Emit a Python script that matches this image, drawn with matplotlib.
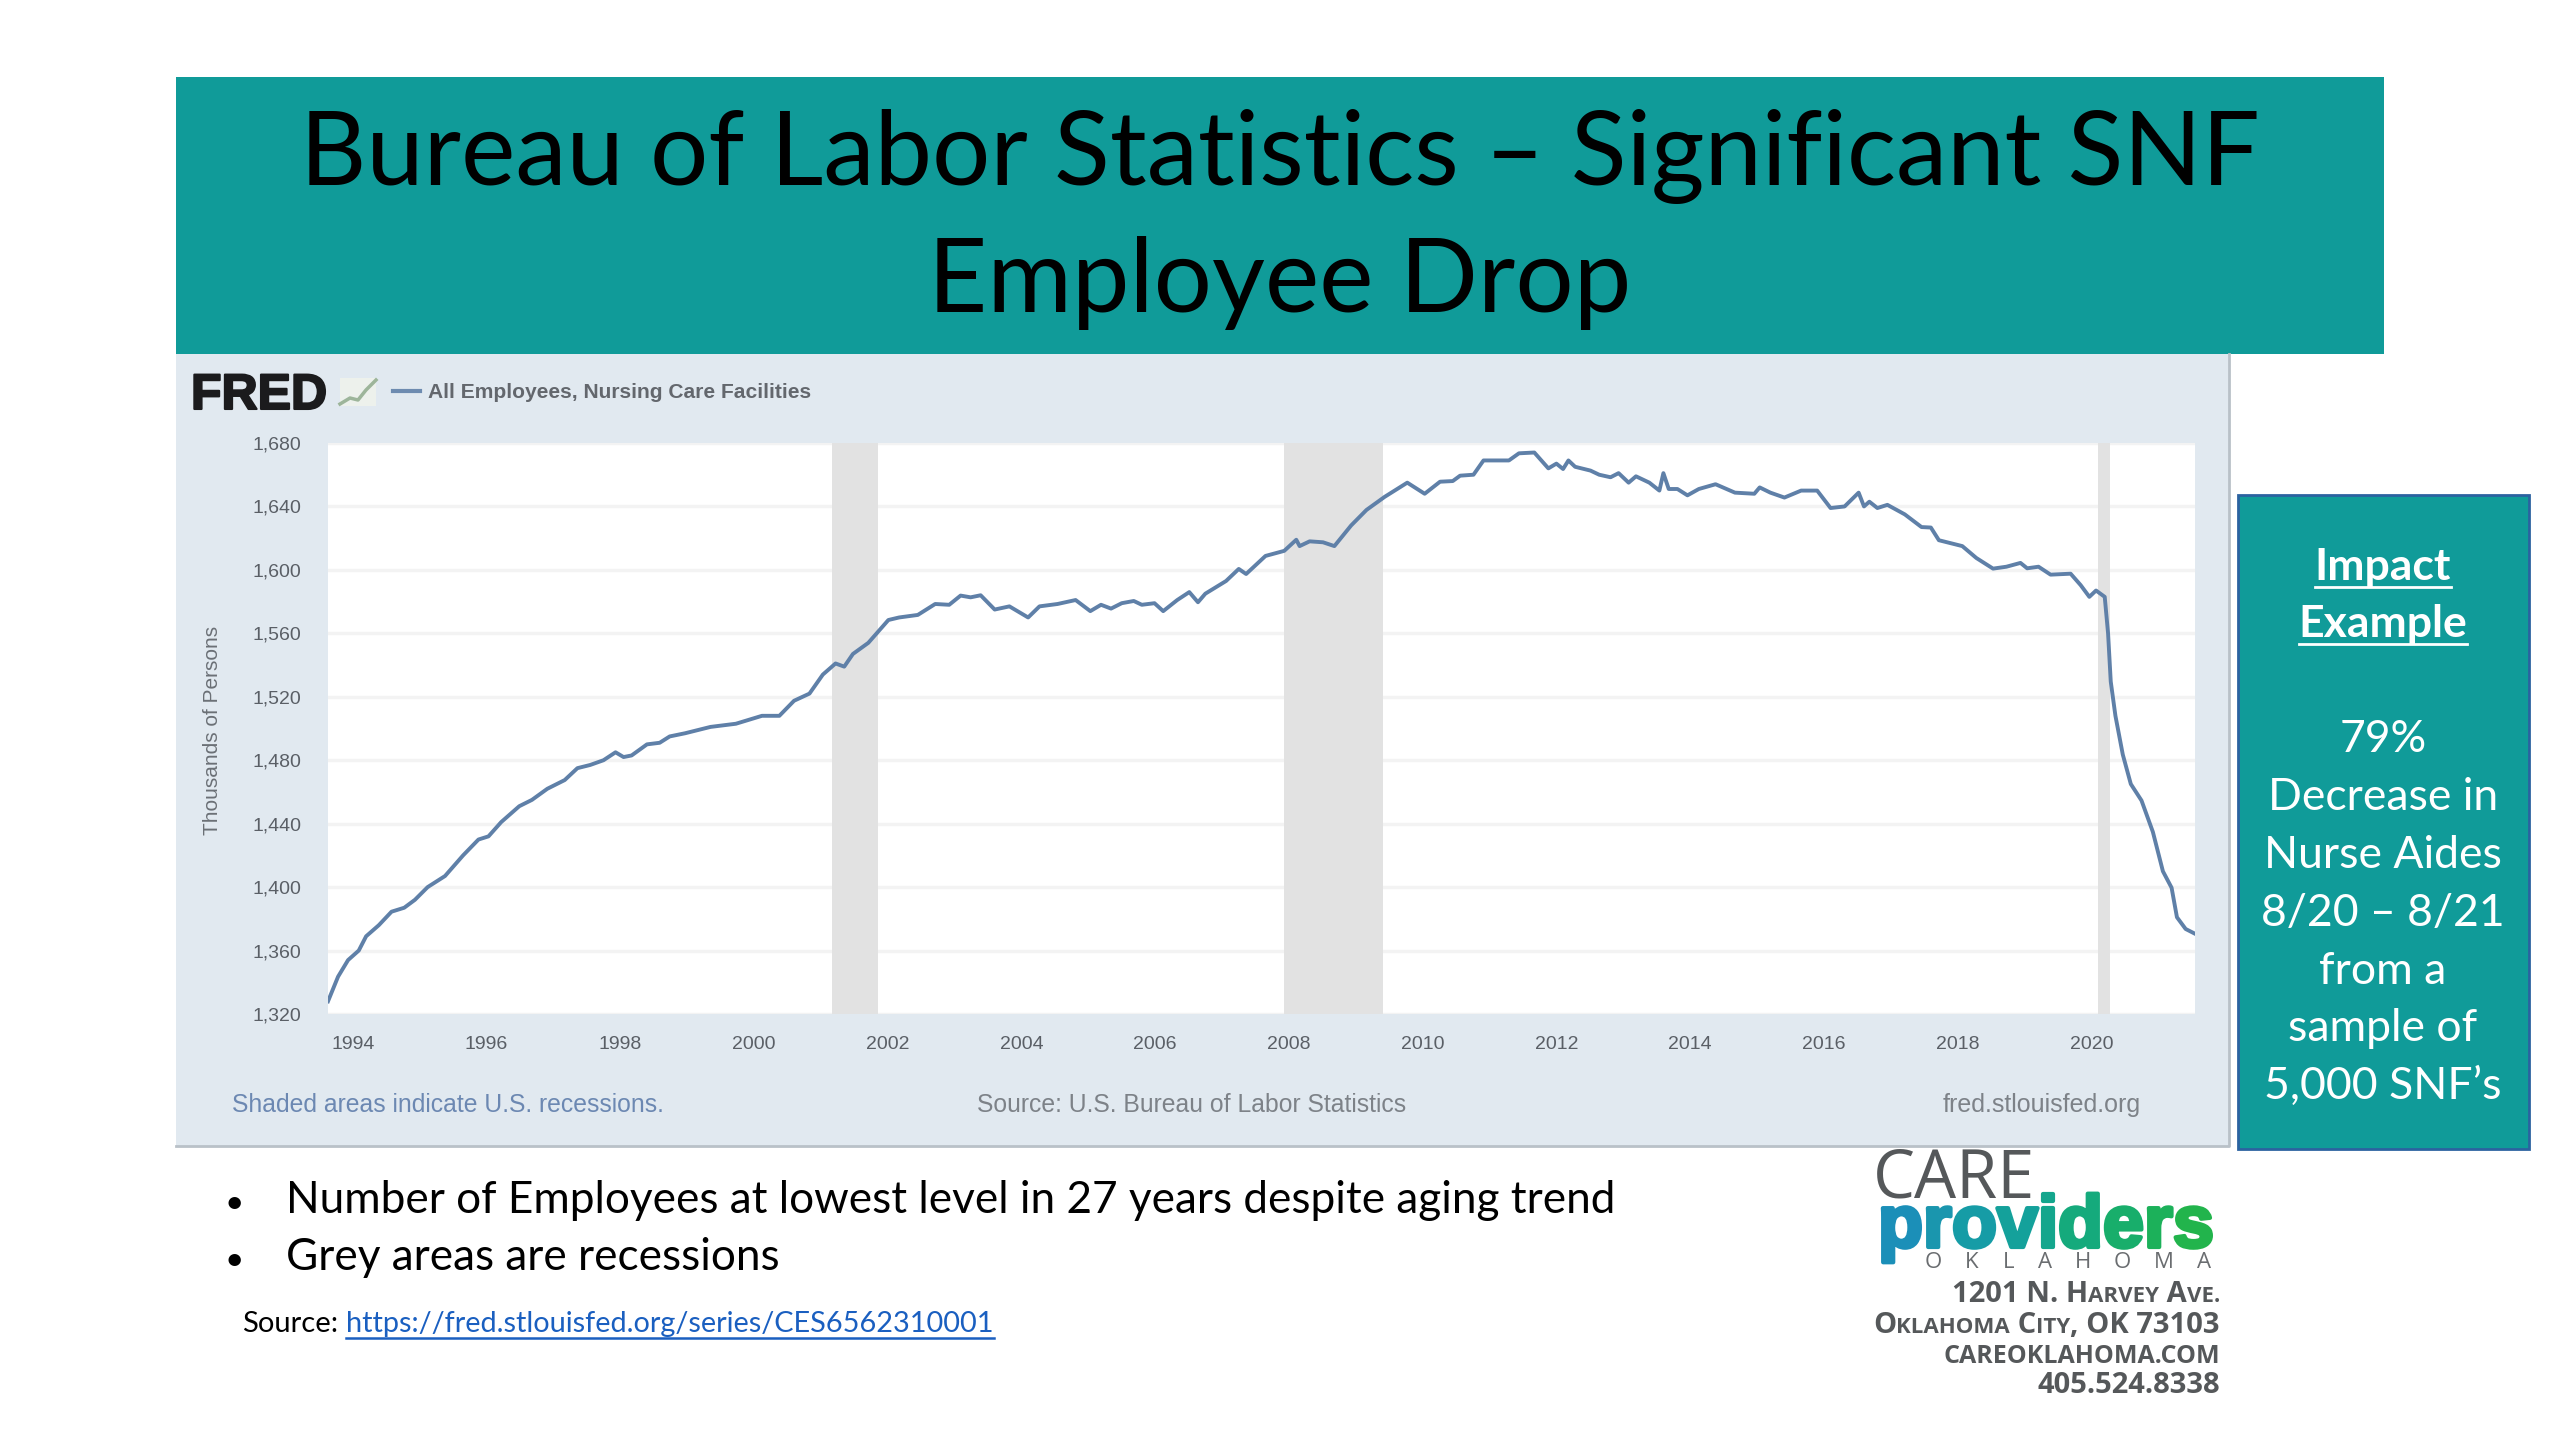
import matplotlib
matplotlib.use('Agg')
import matplotlib.pyplot as plt
import matplotlib.patheffects as pe
from matplotlib.patches import Rectangle

# values (thousands of persons)
years = [1993.63, 1993.78, 1993.93, 1994.09, 1994.2, 1994.39, 1994.58, 1994.77, 1994.93, 1995.12,
         1995.38, 1995.65, 1995.88, 1996.03, 1996.22, 1996.49, 1996.68, 1996.91, 1997.17, 1997.36,
         1997.55, 1997.75, 1997.93, 1998.05, 1998.17, 1998.4, 1998.59, 1998.74, 1998.97, 1999.35,
         1999.73, 2000.12, 2000.38, 2000.6, 2000.83, 2001.03, 2001.22, 2001.35, 2001.48, 2001.71,
         2002.01, 2002.17, 2002.45, 2002.71, 2002.92, 2003.09, 2003.24, 2003.39, 2003.6, 2003.82,
         2004.1, 2004.27, 2004.54, 2004.81, 2005.03, 2005.19, 2005.34, 2005.5, 2005.68, 2005.8,
         2005.99, 2006.12, 2006.33, 2006.51, 2006.64, 2006.75, 2007.06, 2007.25, 2007.36, 2007.65,
         2007.93, 2008.11, 2008.16, 2008.31, 2008.51, 2008.68, 2008.93, 2009.16, 2009.43, 2009.77,
         2010.03, 2010.26, 2010.45, 2010.56, 2010.76, 2010.91, 2011.06, 2011.29, 2011.44, 2011.67,
         2011.88, 2012.0, 2012.1, 2012.18, 2012.28, 2012.51, 2012.64, 2012.81, 2012.93, 2013.08,
         2013.19, 2013.39, 2013.54, 2013.6, 2013.68, 2013.81, 2013.96, 2014.13, 2014.38, 2014.67,
         2014.96, 2015.04, 2015.2, 2015.41, 2015.66, 2015.9, 2016.1, 2016.31, 2016.52, 2016.6,
         2016.68, 2016.8, 2016.95, 2017.21, 2017.46, 2017.6, 2017.72, 2018.07, 2018.28, 2018.53,
         2018.73, 2018.94, 2019.04, 2019.21, 2019.39, 2019.69, 2019.84, 2019.97, 2020.07, 2020.2,
         2020.25, 2020.29, 2020.36, 2020.47, 2020.59, 2020.75, 2020.92, 2021.07, 2021.2, 2021.28,
         2021.41, 2021.55]
employees = [1328, 1343.5, 1354, 1360, 1369, 1376, 1384.5, 1387, 1392, 1400,
             1407, 1420, 1430, 1432, 1441, 1451, 1455, 1462, 1467.5, 1475,
             1477, 1480, 1485, 1482, 1483, 1490, 1491, 1495, 1497, 1501,
             1503, 1508, 1508, 1517.5, 1522, 1534, 1541, 1539, 1547, 1554,
             1568.4, 1570, 1571.6, 1578.5, 1578, 1583.8, 1582.7, 1584, 1575, 1577,
             1570, 1577, 1578.5, 1581, 1574, 1578, 1575.6, 1579, 1580.4, 1578,
             1579, 1574, 1581, 1586, 1579.6, 1585, 1593, 1600.6, 1597.4, 1608.8,
             1612, 1619, 1615, 1618, 1617.4, 1615, 1628, 1637.8, 1646, 1655,
             1648, 1655.6, 1656, 1659.4, 1660, 1669, 1669, 1669, 1673.5, 1674,
             1664, 1667, 1663.6, 1669, 1665, 1662.6, 1660, 1658.4, 1661, 1655,
             1659, 1655, 1650, 1661, 1651, 1651, 1647, 1651, 1654, 1648.7,
             1648, 1652, 1648.7, 1645.6, 1650, 1650, 1639, 1640, 1648.7, 1640,
             1643, 1639, 1641, 1635, 1627, 1626.7, 1618.7, 1615, 1607.5, 1600.8,
             1602, 1604.4, 1601, 1602, 1597, 1597.6, 1590.4, 1583, 1587, 1583,
             1560, 1529.6, 1508, 1483.6, 1465, 1454.6, 1434.8, 1410, 1399.6, 1381,
             1373.6, 1370.6]
recessions = [(2001.17, 2001.86), (2007.92, 2009.4), (2020.1, 2020.28)]
y_ticks = [1320, 1360, 1400, 1440, 1480, 1520, 1560, 1600, 1640, 1680]
x_ticks = list(range(1994, 2022, 2))

title_lines = ['Bureau of Labor Statistics – Significant SNF', 'Employee Drop']
impact_lines = ['79%', 'Decrease in', 'Nurse Aides', '8/20 – 8/21', 'from a', 'sample of', '5,000 SNF’s']
bullets = ['Number of Employees at lowest level in 27 years despite aging trend', 'Grey areas are recessions']

TEAL = '#109b99'
PANEL = '#e1e9f0'
LINE = '#5f80a8'
TICK = '#5a5f66'

W, H = 2560, 1440
fig = plt.figure(figsize=(W / 100, H / 100), dpi=100, facecolor='white')

# page layer, in pixels
page = fig.add_axes([0, 0, 1, 1])
page.set_xlim(0, W)
page.set_ylim(H, 0)
page.axis('off')

page.add_patch(Rectangle((176, 77), 2208, 277, fc=TEAL, ec='none'))
page.add_patch(Rectangle((176, 354), 2053, 792, fc=PANEL, ec='none'))
page.plot([176, 2229, 2229], [1146, 1146, 354], color='#b9c1c8', lw=2)
page.add_patch(Rectangle((2238, 495), 291, 654, fc=TEAL, ec='#2b62a0', lw=2))

for line, y in zip(title_lines, [185, 312]):
    page.text(1280, y, line, family='Lato', fontsize=74, color='black', ha='center', va='baseline')

# right box
for line, y in zip(['Impact', 'Example'], [580, 637]):
    t = page.text(2383, y, line, family='Lato', fontsize=32, weight='bold', color='white', ha='center', va='baseline')
    page.figure.canvas.draw()
    bb = t.get_window_extent()
    page.plot([bb.x0, bb.x1], [y + 7, y + 7], color='white', lw=2)
for line, y in zip(impact_lines, [752, 810, 868, 926, 984, 1041, 1099]):
    page.text(2383, y, line, family='Lato', fontsize=32, color='white', ha='center', va='baseline')

# FRED header
page.text(191, 396, 'FRED', family='Liberation Sans', weight='bold', fontsize=36, color='#1b1b1d', va='center',
          path_effects=[pe.withStroke(linewidth=1.5, foreground='#1b1b1d')])
page.add_patch(Rectangle((340, 378), 36, 28, fc='#edf1ec', ec='none'))
page.plot([340, 350, 358, 366, 376], [404, 398, 400, 390, 380], color='#9db59a', lw=2.5)
page.plot([393, 420], [391, 391], color='#6d8bb0', lw=3)
page.text(428, 392, 'All Employees, Nursing Care Facilities', family='Liberation Sans', weight='bold',
          fontsize=15.1, color='#63676d', va='center')
page.text(212, 730, 'Thousands of Persons', family='Liberation Sans', fontsize=15, color='#6b7076',
          rotation=90, ha='center', va='center')
page.text(232, 1105, 'Shaded areas indicate U.S. recessions.', family='Liberation Sans', fontsize=17.8,
          color='#6c88b2', va='center')
page.text(1192, 1105, 'Source: U.S. Bureau of Labor Statistics', family='Liberation Sans', fontsize=17.8,
          color='#7d8288', ha='center', va='center')
page.text(2042, 1105, 'fred.stlouisfed.org', family='Liberation Sans', fontsize=18,
          color='#7d8288', ha='center', va='center')

# chart
ax = fig.add_axes([328 / W, 1 - 1014 / H, (2195 - 328) / W, (1014 - 443) / H])
ax.set_facecolor('white')
ax.set_xlim(1993.63, 2021.55)
ax.set_ylim(1320, 1680)
ax.set_axisbelow(True)
ax.grid(axis='y', color='#f3f3f3', lw=2.5)
for start, end in recessions:
    ax.axvspan(start, end, color='#e2e2e2', lw=0, zorder=1)
ax.plot(years, employees, color=LINE, lw=2.8, zorder=3, solid_joinstyle='round')
ax.set_yticks(y_ticks)
ax.set_yticklabels([f'{v:,}' for v in y_ticks], family='Liberation Sans', fontsize=14, color=TICK)
ax.set_xticks(x_ticks)
ax.set_xticklabels(x_ticks, family='Liberation Sans', fontsize=14, color=TICK)
ax.tick_params(axis='y', length=0, pad=19)
ax.tick_params(axis='x', length=0, pad=16)
for s in ax.spines.values():
    s.set_visible(False)

# notes under the chart
for line, y in zip(bullets, [1213, 1270]):
    page.text(234, y, '•', family='Lato', fontsize=24, color='black', ha='center', va='baseline')
    page.text(286, y, line, family='Lato', fontsize=31.8, color='black', va='baseline')
page.text(242, 1332, 'Source:', family='Lato', fontsize=21, color='black', va='baseline')
link = page.text(346, 1332, 'https://fred.stlouisfed.org/series/CES6562310001', family='Lato', fontsize=20.8,
                 color='#1a5fc0', va='baseline')
fig.canvas.draw()
bb = link.get_window_extent()
page.plot([bb.x0, bb.x1], [1338, 1338], color='#1a5fc0', lw=1.8)

# logo
renderer = fig.canvas.get_renderer()


def draw_runs(runs, x, y, right=False, **kw):
    # runs: (text, size, colour), drawn one after the other from x
    placed = []
    total = 0
    for text, size, colour in runs:
        t = page.text(x, y, text, fontsize=size, color=colour, va='baseline', **kw)
        w = t.get_window_extent(renderer).width
        placed.append((t, w))
        total += w
    cur = x - total if right else x
    for t, w in placed:
        t.set_x(cur)
        cur += w


page.text(1873, 1197, 'CARE', family='Open Sans', fontsize=48, color='#55585a', va='baseline')
provider_colours = ['#1b8fb8', '#1a96ae', '#169ca6', '#14a19b', '#14a68d', '#15aa7c', '#18ae6b', '#1cb15a', '#22b44c']
for c, col, x in zip('providers', provider_colours, [1878, 1923, 1952, 1997, 2038, 2058, 2103, 2144, 2173]):
    page.text(x, 1247, c, fontsize=53, color=col, va='baseline', family='Liberation Sans', weight='bold',
              path_effects=[pe.withStroke(linewidth=3, foreground=col)])
for c, x in zip('OKLAHOMA', [1933, 1972, 2009, 2045, 2083, 2122, 2164, 2204]):
    page.text(x, 1268, c, family='Open Sans', fontsize=16, color='#6a6d70', ha='center', va='baseline')

GREY = '#55585a'
B, S = 21, 16
draw_runs([('1201 N. H', B, GREY), ('ARVEY', S, GREY), (' A', B, GREY), ('VE.', S, GREY)], 2220, 1302,
          right=True, family='Open Sans', weight='bold')
draw_runs([('O', B, GREY), ('KLAHOMA', S, GREY), (' C', B, GREY), ('ITY', S, GREY), (', OK 73103', B, GREY)], 2220, 1333,
          right=True, family='Open Sans', weight='bold')
draw_runs([('CAREOKLAHOMA.COM', 18, GREY)], 2220, 1363, right=True, family='Open Sans', weight='bold')
draw_runs([('405.524.8338', 21, GREY)], 2220, 1393, right=True, family='Open Sans', weight='bold')

fig.savefig('out.png', dpi=100)
